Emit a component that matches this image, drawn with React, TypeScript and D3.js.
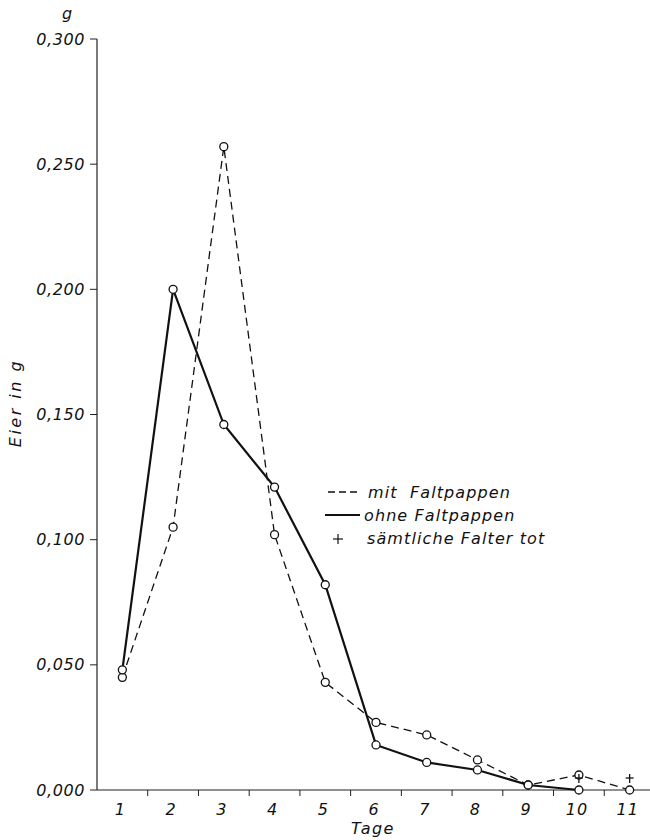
import React from "react";
import * as d3 from "d3";

const days = [1, 2, 3, 4, 5, 6, 7, 8, 9, 10, 11];
const mitFaltpappen = [0.045, 0.105, 0.257, 0.102, 0.043, 0.027, 0.022, 0.012, 0.002, 0.006, 0.0];
const ohneFaltpappen = [0.048, 0.2, 0.146, 0.121, 0.082, 0.018, 0.011, 0.008, 0.002, 0.0];
const yTicks = [0, 0.05, 0.1, 0.15, 0.2, 0.25, 0.3];
const deadMarks = [
  { day: 10, value: 0.0 },
  { day: 11, value: 0.0 },
];
const legendItems = ["mit  Faltpappen", "ohne Faltpappen", "sämtliche Falter tot"];

const W = 650;
const H = 840;
const FONT = "DejaVu Sans";

export default function App() {
  const x = d3.scaleLinear().domain([0.5, 11.5]).range([97, 655]);
  const y = d3.scaleLinear().domain([0, 0.3]).range([790, 39]);
  const fmt = (v: number) => d3.format(".3f")(v).replace(".", ",");

  const line = d3
    .line<number>()
    .x((_, i) => x(days[i]))
    .y((d) => y(d));

  const boundaries = d3.range(1.5, 11.5, 1);

  return (
    <svg
      width={W}
      height={H}
      style={{ position: "absolute", left: 0, top: 0, background: "#fff" }}
      fontFamily={FONT}
      fontStyle="italic"
    >
      {/* y axis */}
      <line x1={x(0.5)} x2={x(0.5)} y1={y(0)} y2={y(0.3)} stroke="#222" strokeWidth={1.2} />
      {yTicks.map((t) => (
        <g key={t}>
          <line x1={x(0.5) - 7} x2={x(0.5)} y1={y(t)} y2={y(t)} stroke="#222" strokeWidth={1} />
          <text x={x(0.5) - 12} y={y(t)} dy="0.35em" textAnchor="end" fontSize={16} letterSpacing={0.6} fill="#111">
            {fmt(t)}
          </text>
        </g>
      ))}
      <text x={67} y={19} textAnchor="middle" fontSize={16} fill="#111">g</text>
      <text
        transform={`translate(21,403) rotate(-90)`}
        textAnchor="middle"
        fontSize={16}
        letterSpacing={2.5}
        fill="#111"
      >
        Eier in g
      </text>

      {/* x axis */}
      <line x1={x(0.5)} x2={W} y1={y(0)} y2={y(0)} stroke="#222" strokeWidth={1.2} />
      {boundaries.map((b) => (
        <line key={b} x1={x(b)} x2={x(b)} y1={y(0)} y2={y(0) + 6} stroke="#222" strokeWidth={1} />
      ))}
      {days.map((d) => (
        <text key={d} x={x(d) - 2} y={y(0) + 25} textAnchor="middle" fontSize={16} letterSpacing={1} fill="#111">
          {d}
        </text>
      ))}
      <text x={x(6) - 3} y={y(0) + 44} textAnchor="middle" fontSize={16} letterSpacing={1.5} fill="#111">
        Tage
      </text>

      {/* series */}
      <path d={line(mitFaltpappen) || ""} fill="none" stroke="#111" strokeWidth={1.3} strokeDasharray="8,5" />
      <path d={line(ohneFaltpappen) || ""} fill="none" stroke="#111" strokeWidth={2.2} />
      {mitFaltpappen.map((v, i) => (
        <circle key={"m" + i} cx={x(days[i])} cy={y(v)} r={4} fill="#fff" stroke="#111" strokeWidth={1.3} />
      ))}
      {ohneFaltpappen.map((v, i) => (
        <circle key={"o" + i} cx={x(days[i])} cy={y(v)} r={4} fill="#fff" stroke="#111" strokeWidth={1.3} />
      ))}
      {deadMarks.map((m) => (
        <g key={m.day} stroke="#111" strokeWidth={1.3}>
          <line x1={x(m.day) - 4} x2={x(m.day) + 4} y1={y(m.value) - 12} y2={y(m.value) - 12} />
          <line x1={x(m.day)} x2={x(m.day)} y1={y(m.value) - 16} y2={y(m.value) - 7} />
        </g>
      ))}

      {/* legend */}
      <line x1={328} x2={358} y1={492} y2={492} stroke="#111" strokeWidth={1.3} strokeDasharray="7,4" />
      <text x={368} y={492} dy="0.35em" fontSize={16} letterSpacing={1.1} fill="#111" style={{ whiteSpace: "pre" }}>
        {legendItems[0]}
      </text>
      <line x1={325} x2={360} y1={515} y2={515} stroke="#111" strokeWidth={2.2} />
      <text x={364} y={515} dy="0.35em" fontSize={16} letterSpacing={1.1} fill="#111">
        {legendItems[1]}
      </text>
      <g stroke="#111" strokeWidth={1.2}>
        <line x1={333} x2={343} y1={539} y2={539} />
        <line x1={338} x2={338} y1={534} y2={544} />
      </g>
      <text x={367} y={538} dy="0.35em" fontSize={16} letterSpacing={1.1} fill="#111">
        {legendItems[2]}
      </text>
    </svg>
  );
}
